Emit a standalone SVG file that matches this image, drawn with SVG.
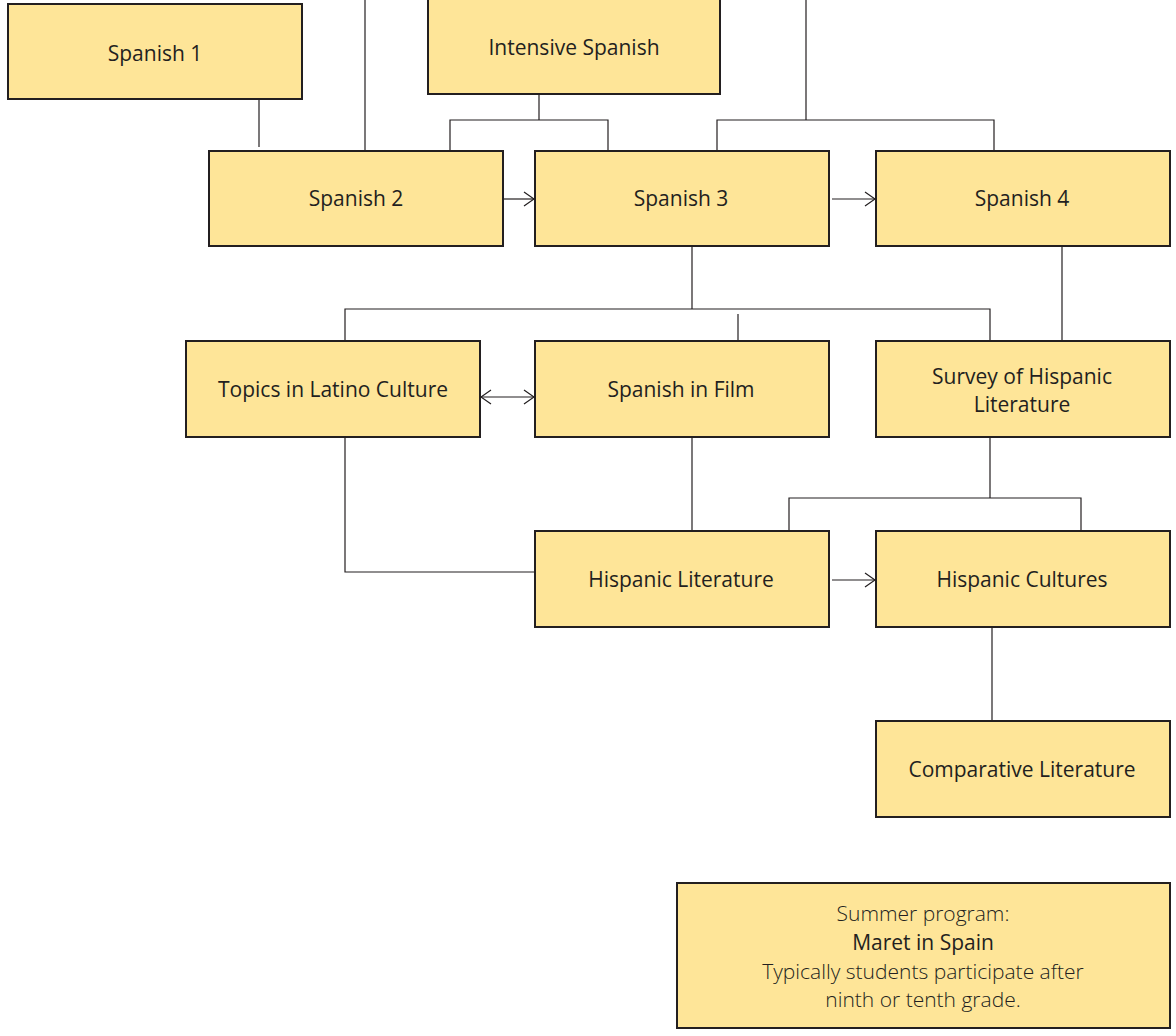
<svg xmlns="http://www.w3.org/2000/svg" width="1176" height="1036" viewBox="0 0 1176 1036">
<style>
.box{fill:#fee598;stroke:#231f20;stroke-width:2}
.t{font-family:"Open Sans","Noto Sans","Liberation Sans",sans-serif;font-size:21px;fill:#231f20;text-anchor:middle}
.l{font-weight:300}
.c{fill:none;stroke:#231f20;stroke-width:1.2}
</style>
<defs>
<marker id="ah" viewBox="0 0 12 16" refX="11" refY="8" markerWidth="12" markerHeight="16" markerUnits="userSpaceOnUse" orient="auto-start-reverse">
<path d="M1,1 L11,8 L1,15" fill="none" stroke="#231f20" stroke-width="1.2"/>
</marker>
</defs>
<rect width="1176" height="1036" fill="#fff"/>
<g id="connectors">
<path class="c" d="M365,0 V151"/>
<path class="c" d="M259,99 V147"/>
<path class="c" d="M539,94 V120 M450,151 V120 H608 V151"/>
<path class="c" d="M806,0 V120 M717,151 V120 H994 V151"/>
<path class="c" d="M503,199 H534" marker-end="url(#ah)"/>
<path class="c" d="M832,199 H875" marker-end="url(#ah)"/>
<path class="c" d="M692,246 V309 M345,341 V309 H990 V341"/>
<path class="c" d="M738,314 V341"/>
<path class="c" d="M1062,246 V341"/>
<path class="c" d="M481,397 H534" marker-start="url(#ah)" marker-end="url(#ah)"/>
<path class="c" d="M345,437 V572 H535"/>
<path class="c" d="M692,437 V531"/>
<path class="c" d="M990,437 V498 M789,531 V498 H1081 V531"/>
<path class="c" d="M832,580 H875" marker-end="url(#ah)"/>
<path class="c" d="M992,627 V721"/>
</g>
<g id="spanish1"><rect class="box" x="8" y="4" width="294" height="95"/><text class="t" x="155" y="61">Spanish 1</text></g>
<g id="intensive"><rect class="box" x="428" y="-2" width="292" height="96"/><text class="t" x="574" y="55">Intensive Spanish</text></g>
<g id="spanish2"><rect class="box" x="209" y="151" width="294" height="95"/><text class="t" x="356" y="206">Spanish 2</text></g>
<g id="spanish3"><rect class="box" x="535" y="151" width="294" height="95"/><text class="t" x="681" y="206">Spanish 3</text></g>
<g id="spanish4"><rect class="box" x="876" y="151" width="294" height="95"/><text class="t" x="1022" y="206">Spanish 4</text></g>
<g id="topics"><rect class="box" x="186" y="341" width="294" height="96"/><text class="t" x="333" y="397">Topics in Latino Culture</text></g>
<g id="film"><rect class="box" x="535" y="341" width="294" height="96"/><text class="t" x="681" y="397">Spanish in Film</text></g>
<g id="survey"><rect class="box" x="876" y="341" width="294" height="96"/><text class="t" x="1022" y="384">Survey of Hispanic</text><text class="t" x="1022" y="412">Literature</text></g>
<g id="hisplit"><rect class="box" x="535" y="531" width="294" height="96"/><text class="t" x="681" y="587">Hispanic Literature</text></g>
<g id="hispcult"><rect class="box" x="876" y="531" width="294" height="96"/><text class="t" x="1022" y="587">Hispanic Cultures</text></g>
<g id="complit"><rect class="box" x="876" y="721" width="294" height="96"/><text class="t" x="1022" y="777">Comparative Literature</text></g>
<g id="summer"><rect class="box" x="677" y="883" width="493" height="145"/>
<text class="t l" x="923" y="921">Summer program:</text>
<text class="t" x="923" y="950">Maret in Spain</text>
<text class="t l" x="923" y="979">Typically students participate after</text>
<text class="t l" x="923" y="1007">ninth or tenth grade.</text>
</g>
</svg>
